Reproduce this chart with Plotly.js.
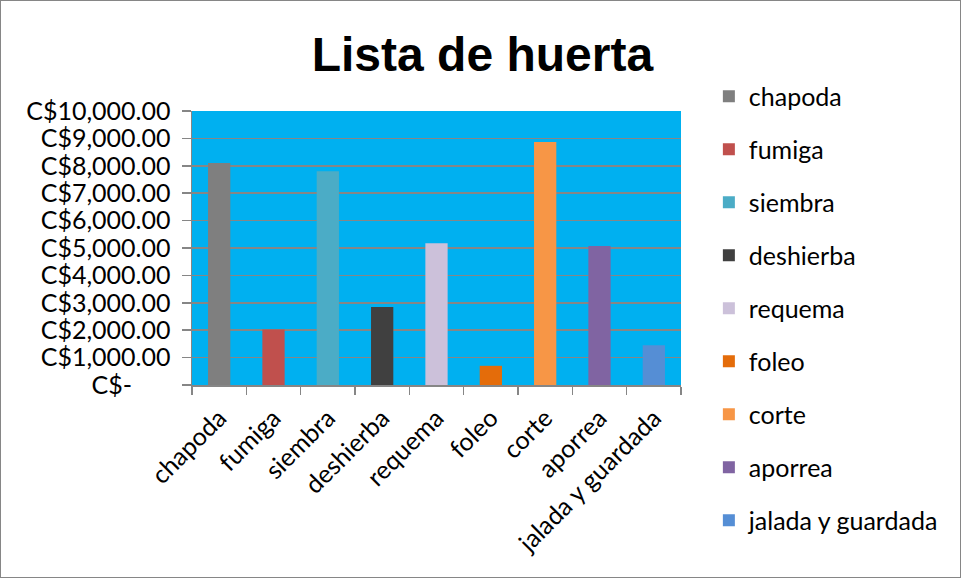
<!DOCTYPE html>
<html>
<head>
<meta charset="utf-8">
<script src="https://cdn.plot.ly/plotly-3.0.1.min.js"></script>
<style>
html,body{margin:0;padding:0;background:#fff;}
#chart{width:959px;height:576px;border:1px solid #868686;}
</style>
</head>
<body>
<div id="chart"></div>
<script>
const categories = ["chapoda","fumiga","siembra","deshierba","requema","foleo","corte","aporrea","jalada y guardada"];
const values = [8100, 2030, 7800, 2850, 5170, 700, 8870, 5070, 1450];
const colors = ["#7F7F7F","#C0504D","#4BACC6","#404040","#CCC1DA","#E46C0A","#F79646","#8064A2","#558ED5"];
const tickVals = [0,1000,2000,3000,4000,5000,6000,7000,8000,9000,10000];
const tickText = ["C$-      ","C$1,000.00","C$2,000.00","C$3,000.00","C$4,000.00","C$5,000.00","C$6,000.00","C$7,000.00","C$8,000.00","C$9,000.00","C$10,000.00"];

const traces = categories.map((c, i) => ({
  type: "bar",
  name: c,
  x: [c],
  y: [values[i]],
  width: 0.41,
  marker: {color: colors[i]},
  legendgroup: "g" + i,
  hoverinfo: "x+y"
}));

const FS = 25;
const layout = {
  width: 959, height: 576,
  paper_bgcolor: "#fff",
  plot_bgcolor: "#00B0F0",
  margin: {l: 191, r: 279, t: 110, b: 192},
  barmode: "overlay",
  showlegend: true,
  title: {
    text: "<b>Lista de huerta</b>",
    font: {family: "Liberation Sans, Arial, sans-serif", size: 48, color: "#000"},
    x: 0.502, xref: "container", xanchor: "center",
    y: 0.908, yref: "container", yanchor: "middle"
  },
  font: {family: "Lato, sans-serif", size: FS, color: "#000"},
  xaxis: {
    type: "category",
    categoryorder: "array",
    categoryarray: categories,
    tickangle: -45,
    ticks: "outside",
    tickson: "boundaries",
    ticklen: 8,
    tickcolor: "#868686",
    tickwidth: 1.5,
    showline: true,
    linecolor: "#868686",
    linewidth: 1.5,
    showgrid: false,
    ticklabelstandoff: 7,
    tickfont: {family: "Lato, sans-serif", size: FS, color: "#000"},
    fixedrange: true
  },
  yaxis: {
    range: [0, 10000],
    tickvals: tickVals,
    ticktext: tickText,
    ticks: "outside",
    ticklen: 9,
    tickcolor: "#868686",
    tickwidth: 1.5,
    showline: true,
    linecolor: "#868686",
    linewidth: 1.5,
    showgrid: true,
    gridcolor: "#868686",
    gridwidth: 1.5,
    zeroline: false,
    ticklabelstandoff: 6,
    tickfont: {family: "Lato, sans-serif", size: FS, color: "#000"},
    fixedrange: true
  },
  legend: {
    x: 1.057, xanchor: "left",
    y: 1.137, yanchor: "top",
    traceorder: "grouped",
    tracegroupgap: 17.5,
    maxheight: 540,
    font: {family: "Lato, sans-serif", size: FS, color: "#000"},
    bgcolor: "rgba(0,0,0,0)"
  }
};

Plotly.newPlot("chart", traces, layout, {displayModeBar: false, staticPlot: true});
</script>
</body>
</html>
